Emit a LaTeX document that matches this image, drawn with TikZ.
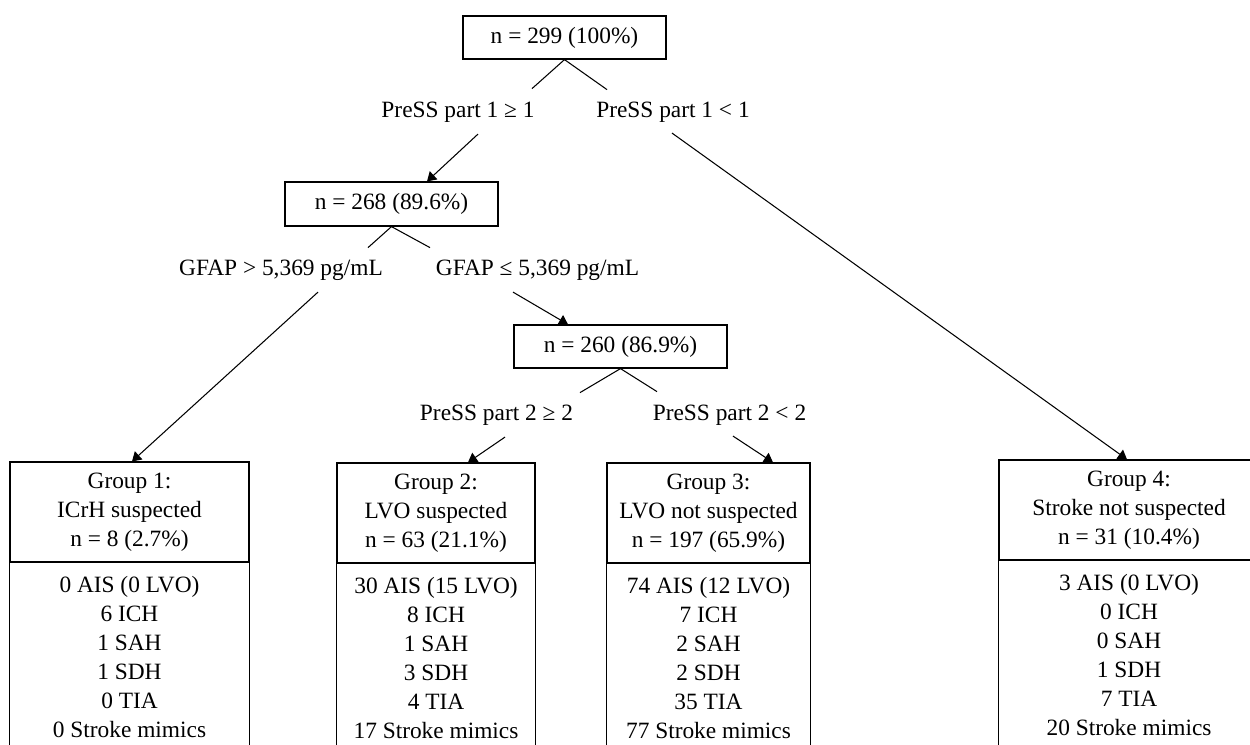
\documentclass[tikz,border=0pt]{standalone}
\usepackage{fontspec}
\setmainfont{Liberation Serif}
\usetikzlibrary{arrows.meta,calc}
\begin{document}
\begin{tikzpicture}[x=0.02cm,y=-0.02cm,
	every node/.style={font=\fontsize{13.3}{16.5}\selectfont},
	count/.style={draw,line width=0.7pt,minimum width=4.26cm,minimum height=0.87cm,inner sep=0pt},
	cond/.style={inner sep=0pt},
	grphead/.style={draw,line width=0.7pt,minimum height=2cm,inner sep=0pt,align=center},
	grpbody/.style={anchor=north,align=center,inner sep=0pt},
	arr/.style={line width=0.6pt,-{Triangle[length=0.18cm,width=0.22cm]}},
	branch/.style={line width=0.6pt}]
			\clip (0,0) rectangle (1250,744);
			% counts and splits
			\node[count,minimum width=4.06cm,minimum height=0.86cm] (all) at (564.5,37.5) {n = 299 (100\%)};
			\node[cond] (p1yes) at (458,112) {PreSS part 1 ≥ 1};
			\node[cond] (p1no) at (673,112) {PreSS part 1 < 1};
			\node[count,minimum height=0.88cm] (n268) at (391.5,204) {n = 268 (89.6\%)};
			\node[cond] (gfhi) at (281,270) {GFAP > 5,369 pg/mL};
			\node[cond] (gflo) at (537.5,270) {GFAP ≤ 5,369 pg/mL};
			\node[count,minimum height=0.86cm] (n260) at (620.5,346.5) {n = 260 (86.9\%)};
			\node[cond] (p2yes) at (496.5,415) {PreSS part 2 ≥ 2};
			\node[cond] (p2no) at (729.5,415) {PreSS part 2 < 2};
			% groups
			\node[grphead,minimum width=4.78cm] (g1) at (129.5,512) {Group 1:\\ICrH suspected\\n = 8 (2.7\%)};
			\node[grphead,minimum width=3.96cm] (g2) at (436,513) {Group 2:\\LVO suspected\\n = 63 (21.1\%)};
			\node[grphead,minimum width=4.06cm] (g3) at (708.5,513) {Group 3:\\LVO not suspected\\n = 197 (65.9\%)};
			\node[grphead,minimum width=5.2cm] (g4) at (1129,510) {Group 4:\\Stroke not suspected\\n = 31 (10.4\%)};
			\node[grpbody] (g1list) at ($(g1.south)+(0,13)$) {0 AIS (0 LVO)\\6 ICH\\1 SAH\\1 SDH\\0 TIA\\0 Stroke mimics};
			\node[grpbody] (g2list) at ($(g2.south)+(0,13)$) {30 AIS (15 LVO)\\8 ICH\\1 SAH\\3 SDH\\4 TIA\\17 Stroke mimics};
			\node[grpbody] (g3list) at ($(g3.south)+(0,13)$) {74 AIS (12 LVO)\\7 ICH\\2 SAH\\2 SDH\\35 TIA\\77 Stroke mimics};
			\node[grpbody] (g4list) at ($(g4.south)+(0,13)$) {3 AIS (0 LVO)\\0 ICH\\0 SAH\\1 SDH\\7 TIA\\20 Stroke mimics};
			\foreach \g in {g1,g2,g3,g4}
				\draw[line width=0.7pt] (\g.south west) -- ++(0,220) (\g.south east) -- ++(0,220);
			% branches
			\draw[branch] (all.south) -- ++(-32.5,29) (all.south) -- ++(42.5,30);
			\draw[branch] (n268.south) -- ++(-23.5,21) (n268.south) -- ++(38.5,21);
			\draw[branch] (n260.south) -- ++(-40.5,24) (n260.south) -- ++(36.5,23);
			% arrows
			\draw[arr] ($(p1yes.south)+(20,11.5)$) -- ($(n268.north)+(35.5,0)$);
			\draw[arr] ($(p1no.south)+(-1,10.5)$) -- ($(g4.north)+(-2,0)$);
			\draw[arr] ($(gfhi.south)+(37,11.5)$) -- ($(g1.north)+(2.5,0)$);
			\draw[arr] ($(gflo.south)+(-24.5,11.5)$) -- ($(n260.north)+(-52.5,0)$);
			\draw[arr] ($(p2yes.south)+(8.5,11.5)$) -- ($(g2.north)+(32,0)$);
			\draw[arr] ($(p2no.south)+(3.5,10.5)$) -- ($(g3.north)+(64.5,0)$);
\end{tikzpicture}
\end{document}
